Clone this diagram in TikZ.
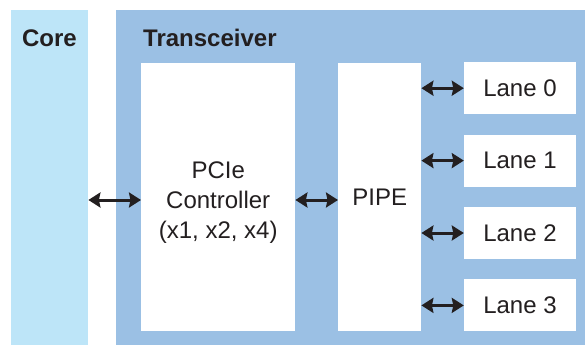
\documentclass[tikz,border=0pt]{standalone}
\usepackage{fontspec}
\setmainfont{Liberation Sans}
\usetikzlibrary{arrows.meta, positioning}
\definecolor{coreblue}{RGB}{189,229,248}
\definecolor{xcvrblue}{RGB}{155,192,228}
\definecolor{inkgray}{RGB}{35,31,32}

\begin{document}
\begin{tikzpicture}[x=1pt, y=-1pt, font=\fontsize{24}{30}\selectfont,
        area/.style={anchor=north west, inner sep=0pt, draw=none},
        box/.style={area, fill=white, align=center, text=inkgray},
        lanebox/.style={box, anchor=north, minimum width=112pt, minimum height=52pt},
        title/.style={inner sep=0pt, text=inkgray, font=\fontsize{24}{30}\selectfont\bfseries},
        link/.style={{Stealth[length=12pt,width=15pt,inset=1.5pt]}-{Stealth[length=12pt,width=15pt,inset=1.5pt]}, line width=3pt, inkgray}]
        \useasboundingbox (0,0) rectangle (585,345);
        % background areas
        \node[area, fill=coreblue, minimum width=77pt, minimum height=335pt] (core) at (11,10) {};
        \node[area, fill=xcvrblue, minimum width=469pt, minimum height=335pt] (xcvr) at (116,10) {};
        \node[title, anchor=base] (coretitle) at (49.5,46) {Core};
        \node[title, anchor=base west] (xcvrtitle) at (143,46) {Transceiver};
        % blocks
        \node[box, minimum width=154pt, minimum height=268pt] (ctrl) at (141,63) {};
        \node[inner sep=0pt, align=center, text=inkgray, yshift=-5pt] (ctrltext) at (ctrl.center) {PCIe\\Controller\\(x1, x2, x4)};
        \node[box, minimum width=83pt, minimum height=268pt] (pipe) at (338,63) {PIPE};
        \node[lanebox] (lane0) at (520,62) {Lane 0};
        \node[lanebox, below=20pt of lane0] (lane1) {Lane 1};
        \node[lanebox, below=20pt of lane1] (lane2) {Lane 2};
        \node[lanebox, below=20pt of lane2] (lane3) {Lane 3};
        \coordinate (mid) at (0,200);
        % links
        \draw[link] (core.east |- mid) -- (ctrl.west |- mid);
        \draw[link] (ctrl.east |- mid) -- (pipe.west |- mid);
        \foreach \n in {0,1,2,3}
            \draw[link] (pipe.east |- lane\n.west) -- (lane\n.west);
\end{tikzpicture}
\end{document}
